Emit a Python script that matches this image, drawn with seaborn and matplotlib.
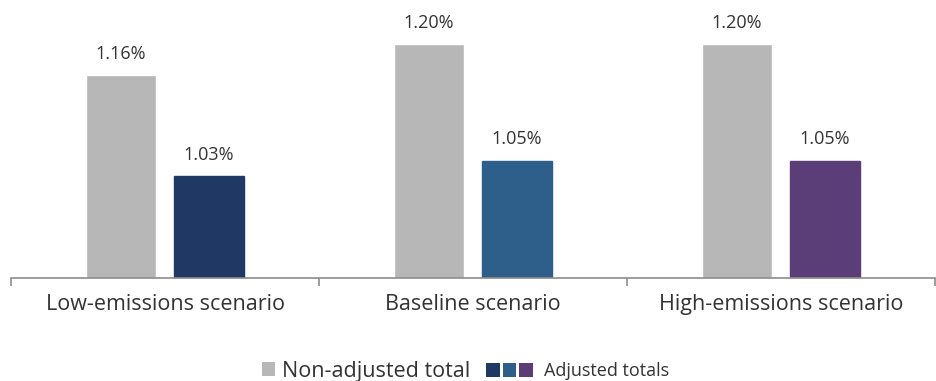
import matplotlib
matplotlib.use("Agg")
import matplotlib.pyplot as plt
from matplotlib.patches import Patch
from matplotlib.legend_handler import HandlerTuple
import pandas as pd
import seaborn as sns

scenarios = ["Low-emissions scenario", "Baseline scenario", "High-emissions scenario"]
non_adjusted = [1.16, 1.20, 1.20]
adjusted = [1.03, 1.05, 1.05]
series_names = ["Non-adjusted total", "Adjusted totals"]

gray = "#b7b7b7"
adjusted_colors = ["#203864", "#2e5f8a", "#5b3d78"]
text_color = "#333333"

df = pd.DataFrame({
    "scenario": scenarios * 2,
    "value": non_adjusted + adjusted,
    "series": [series_names[0]] * 3 + [series_names[1]] * 3,
})

sns.set_theme(style="white")
plt.rcParams["font.family"] = ["Open Sans", "DejaVu Sans"]

fig = plt.figure(figsize=(9.36, 3.81), dpi=100)
ax = fig.add_axes([11 / 936, 1 - 277.5 / 381, 924 / 936, 277.5 / 381])

sns.barplot(data=df, x="scenario", y="value", hue="series",
            palette=[gray, adjusted_colors[0]], width=0.572, gap=0.2,
            legend=False, ax=ax, saturation=1)

# per-scenario colours for the adjusted bars
for bar, c in zip(ax.containers[1], adjusted_colors):
    bar.set_facecolor(c)
    bar.set_edgecolor(c)

for cont, vals in zip(ax.containers, [non_adjusted, adjusted]):
    ax.bar_label(cont, labels=[f"{v:.2f}%" for v in vals], padding=9,
                 fontsize=13, color=text_color)

ax.set_ylim(0.9, 1.257)
ax.set_xlim(-0.5, 2.5)
ax.set_xlabel("")
ax.set_ylabel("")
ax.set_yticks([])
for s in ["top", "right", "left"]:
    ax.spines[s].set_visible(False)
ax.spines["bottom"].set_color("#8c8c8c")
ax.spines["bottom"].set_linewidth(1.2)
ax.tick_params(axis="x", which="major", length=0, pad=12, labelsize=15.5,
               labelcolor=text_color)
ax.set_xticks([-0.5, 0.5, 1.5, 2.5], minor=True)
ax.tick_params(axis="x", which="minor", length=6, width=1.2, color="#8c8c8c",
               direction="out", bottom=True)

legend_y = 1 - 371 / 381

# legend: gray square for the non-adjusted series
leg1 = fig.legend([Patch(facecolor=gray, edgecolor="none")], [series_names[0]],
                  loc="center left", bbox_to_anchor=(262 / 936, legend_y),
                  frameon=False, fontsize=15.5, handlelength=0.62,
                  handleheight=0.62, handletextpad=0.32, borderpad=0,
                  borderaxespad=0, labelcolor=text_color)

# legend: three coloured squares for the adjusted series
leg2 = fig.legend([tuple(Patch(facecolor=c, edgecolor="none") for c in adjusted_colors)],
                  [series_names[1]],
                  loc="center left", bbox_to_anchor=(486 / 936, legend_y),
                  handler_map={tuple: HandlerTuple(ndivide=None, pad=0.15)},
                  frameon=False, fontsize=13, handlelength=2.6,
                  handleheight=0.78, handletextpad=0.6, borderpad=0,
                  borderaxespad=0, labelcolor=text_color)

fig.savefig("out.png", dpi=100)
